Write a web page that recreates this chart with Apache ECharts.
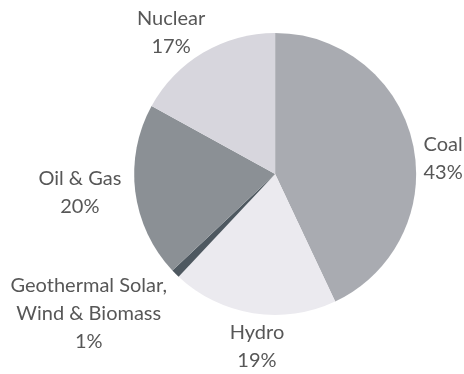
<!DOCTYPE html>
<html>
<head>
<meta charset="utf-8">
<script src="https://cdn.jsdelivr.net/npm/echarts@6/dist/echarts.min.js"></script>
<style>
  html, body { margin: 0; padding: 0; background: #ffffff; }
  #chart { width: 464px; height: 374px; }
</style>
</head>
<body>
<div id="chart"></div>
<script>
// Electricity generation by source (percent of total)
const sources = ['Coal', 'Hydro', 'Geothermal Solar,\nWind & Biomass', 'Oil & Gas', 'Nuclear'];
const shares = [43, 19, 1, 20, 17];
const sliceColors = ['#a9abb1', '#ebeaef', '#4e5860', '#8b9095', '#d7d6dd'];

// Nudges for each label, applied after ECharts places it outside its slice
const labelNudge = [[-6, 18], [38, 22], [5, 31], [3, -1], [13, -10]];

const chart = echarts.init(document.getElementById('chart'), null, { renderer: 'canvas' });

chart.setOption({
  backgroundColor: '#ffffff',
  animation: false,
  series: [{
    type: 'pie',
    center: ['59.3%', '46.5%'],
    radius: 141,
    startAngle: 90,
    clockwise: true,
    avoidLabelOverlap: false,
    data: sources.map((name, i) => ({
      name: name,
      value: shares[i],
      itemStyle: { color: sliceColors[i] }
    })),
    itemStyle: { borderWidth: 0 },
    label: {
      show: true,
      position: 'outside',
      formatter: p => p.name + '\n' + p.value + '%',
      fontFamily: 'Lato',
      fontSize: 20,
      lineHeight: 28,
      color: '#575757'
    },
    labelLine: { show: false, length: 12, length2: 0 },
    labelLayout: function (params) {
      const r = params.labelRect;
      const n = labelNudge[params.dataIndex];
      return {
        x: r.x + r.width / 2 + n[0],
        y: r.y + r.height / 2 + n[1],
        align: 'center',
        verticalAlign: 'middle'
      };
    },
    emphasis: { disabled: true }
  }]
});
</script>
</body>
</html>
